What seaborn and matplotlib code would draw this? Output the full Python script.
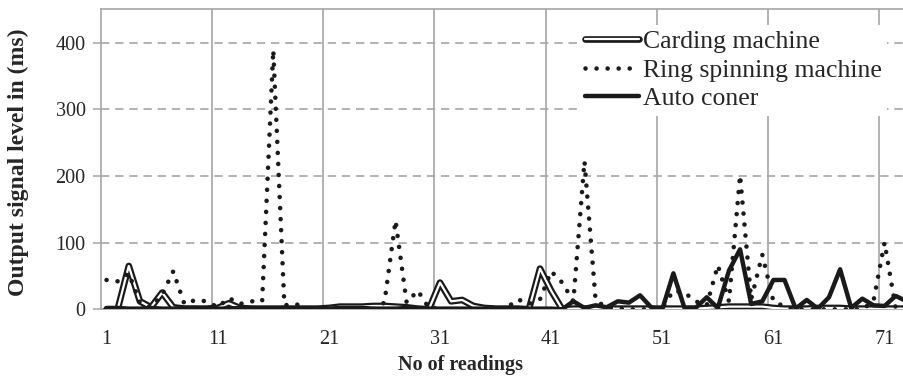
import matplotlib
matplotlib.use('Agg')
import matplotlib.pyplot as plt
import matplotlib.patheffects as pe
import numpy as np
import pandas as pd
import seaborn as sns

# readings 1..73 (last one runs off the right edge like the original)
readings = list(range(1, 74))

carding = [0, 0, 65, 12, 3, 25, 3, 1, 1, 1,
           2, 9, 2, 1, 1, 1, 1, 1, 1, 1,
           2, 4, 4, 4, 5, 5, 4, 3, 1, 0,
           40, 12, 14, 5, 2, 1, 1, 1, 0, 61,
           28, 0, 1, 1, 1, 1, 1, 1, 1, 1,
           1, 1, 1, 1, 2, 3, 4, 4, 4, 4,
           2, 1, 1, 1, 2, 2, 2, 1, 1, 1,
           1, 1, 1]

ring = [44, 42, 54, 10, 3, 22, 57, 8, 14, 12,
        3, 17, 8, 12, 12, 389, 6, 8, 2, 0,
        0, 0, 0, 0, 0, 10, 133, 10, 28, 2,
        1, 0, 0, 0, 0, 0, 2, 15, 8, 15,
        57, 40, 12, 222, 14, 2, 1, 0, 0, 0,
        2, 28, 25, 12, 6, 66, 12, 201, 15, 82,
        12, 4, 0, 0, 0, 0, 0, 0, 0, 12,
        100, 2, 0]

auto = [2, 2, 1, 1, 2, 1, 1, 2, 2, 1,
        1, 1, 2, 2, 1, 1, 2, 1, 1, 1,
        1, 2, 2, 2, 1, 1, 1, 2, 1, 1,
        1, 1, 1, 1, 1, 1, 1, 1, 1, 1,
        1, 0, 12, 2, 6, 3, 12, 10, 21, 3,
        0, 54, 2, 2, 18, 2, 58, 90, 8, 12,
        44, 44, 1, 14, 1, 18, 60, 2, 16, 6,
        5, 20, 12]

df = pd.DataFrame({'reading': readings, 'carding': carding,
                   'ring': ring, 'auto': auto})

sns.set_theme(style='white')
plt.rcParams['font.family'] = ['Liberation Serif', 'DejaVu Serif']

grid_col = '#A6A6A6'
ink = '#1a1a1a'

fig = plt.figure(figsize=(9.04, 3.86), dpi=100)
ax = fig.add_axes([101 / 904, 76.7 / 386, 803 / 904, 300 / 386])

# carding machine: hollow (double) line
sns.lineplot(data=df, x='reading', y='carding', ax=ax, color='white', lw=1.6,
             solid_capstyle='round',
             path_effects=[pe.Stroke(linewidth=4.8, foreground=ink), pe.Normal()],
             label='Carding machine', zorder=3)
# ring spinning machine: round dots
sns.lineplot(data=df, x='reading', y='ring', ax=ax, color=ink, lw=3.3,
             linestyle=(0, (0.01, 2.4)), dash_capstyle='round',
             label='Ring spinning machine', zorder=4)
# auto coner: solid thick
sns.lineplot(data=df, x='reading', y='auto', ax=ax, color=ink, lw=3.2,
             label='Auto coner', zorder=5)

ax.set_xlim(0.5, 72.75)
ax.set_ylim(0, 450)

ax.set_xticks(range(1, 72, 10))
ax.set_xticks(np.arange(10.5, 72, 10), minor=True)
ax.set_yticks([0, 100, 200, 300, 400])

ax.set_axisbelow(True)
ax.grid(axis='x', which='major', visible=False)
ax.grid(axis='x', which='minor', color=grid_col, lw=1.2, ls='-')
ax.grid(axis='y', which='major', color=grid_col, lw=1.2, ls=(0, (5, 3.5)))

ax.tick_params(axis='x', which='both', length=0, pad=15, labelsize=14.5)
ax.tick_params(axis='y', left=True, length=6, width=1.1, color=grid_col,
               pad=5, labelsize=14.5, direction='out')

for side in ['left', 'top', 'bottom']:
    ax.spines[side].set_color(grid_col)
    ax.spines[side].set_linewidth(1.2)
ax.spines['right'].set_visible(False)

ax.set_xlabel('No of readings', fontsize=14.5, fontweight='bold')
ax.set_ylabel('Output signal level in (ms)', fontsize=17, fontweight='bold')
ax.xaxis.set_label_coords(0.448, -0.152)
ax.yaxis.set_label_coords(-0.09, 0.49)

ax.legend(loc='upper left', bbox_to_anchor=(580 / 904, 1 - 24.5 / 386),
          bbox_transform=fig.transFigure, fontsize=18.5, frameon=True,
          fancybox=False, edgecolor='none', facecolor='white', framealpha=1,
          borderpad=0.2, labelspacing=0.23, handlelength=2.1,
          handletextpad=0.15, borderaxespad=0)

fig.savefig('out.png', dpi=100)
